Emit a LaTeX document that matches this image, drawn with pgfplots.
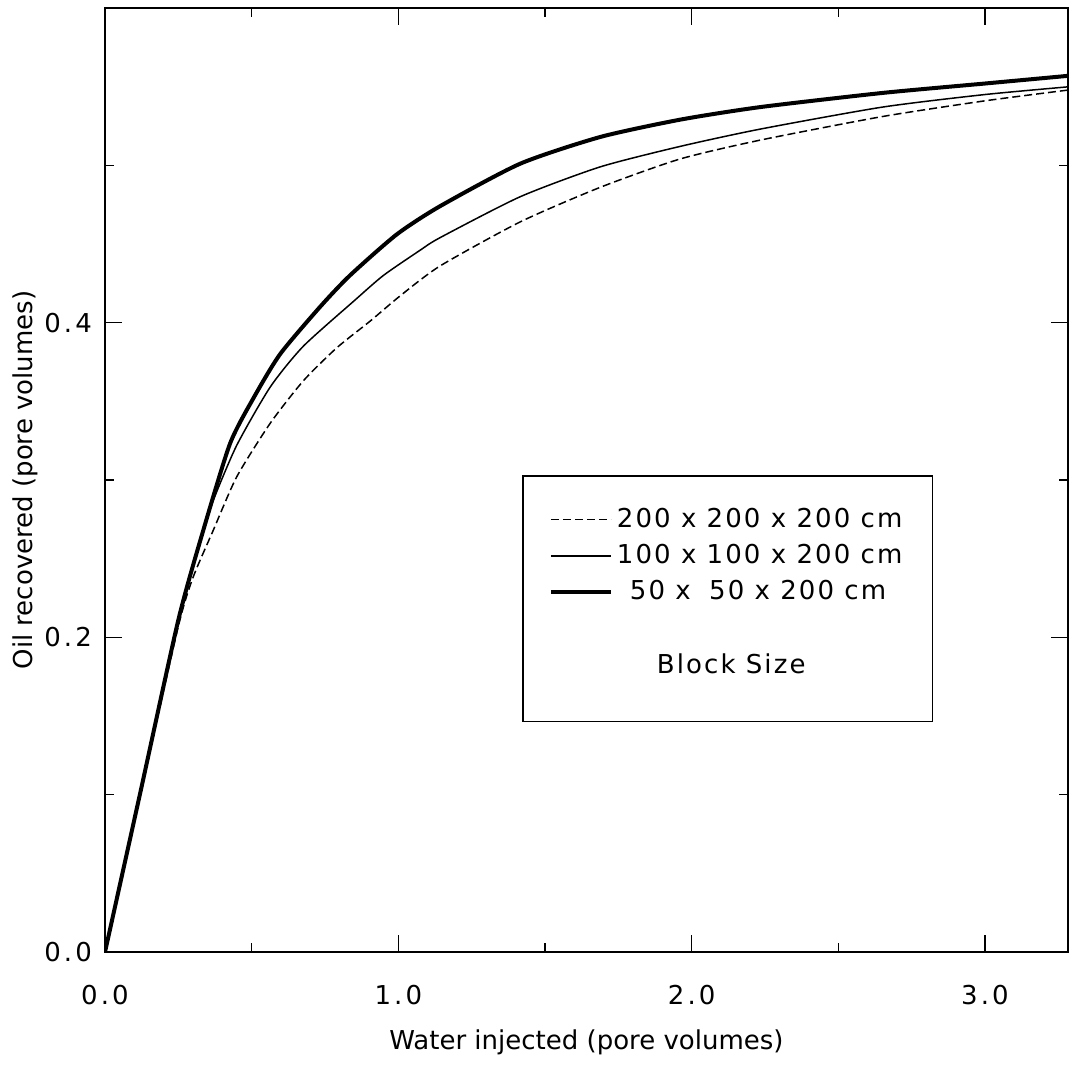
\documentclass[border=0pt]{standalone}
\usepackage{pgfplots}
\pgfplotsset{compat=1.18}
\usepackage{fontspec}
\setmainfont{DejaVu Sans}
\setsansfont{DejaVu Sans}
\newfontfamily\tickfont{DejaVu Sans}[LetterSpace=12]
\newfontfamily\legfont{DejaVu Sans}[LetterSpace=8]

\pgfplotstableread{
x y
0 0
0.12 0.101
0.25 0.211
0.335 0.268
0.426 0.323
0.506 0.352
0.597 0.380
0.733 0.410
0.835 0.430
0.994 0.456
1.142 0.474
1.415 0.501
1.688 0.518
1.96 0.529
2.233 0.537
2.65 0.546
3.0 0.552
3.29 0.557
}\thicktab

\pgfplotstableread{
x y
0 0
0.12 0.101
0.25 0.210
0.33 0.265
0.369 0.287
0.449 0.322
0.563 0.359
0.676 0.385
0.85 0.414
0.949 0.430
1.074 0.446
1.142 0.454
1.415 0.480
1.688 0.499
1.96 0.512
2.233 0.523
2.65 0.537
3.0 0.545
3.29 0.550
}\thintab

\pgfplotstableread{
x y
0 0
0.12 0.100
0.25 0.207
0.30 0.238
0.369 0.268
0.449 0.302
0.563 0.336
0.676 0.363
0.790 0.384
0.904 0.401
1.006 0.417
1.142 0.436
1.415 0.464
1.688 0.486
1.96 0.504
2.233 0.516
2.65 0.531
3.0 0.541
3.29 0.548
}\dashtab

\begin{document}
\fontsize{13}{16}\selectfont
\begin{tikzpicture}
\begin{axis}[
  scale only axis,
  width=481.5pt, height=472pt,
  xmin=0, xmax=3.283, ymin=0, ymax=0.6,
  xtick={0,1,2,3}, xticklabels={0.0,1.0,2.0,3.0},
  minor xtick={0.5,1.5,2.5},
  ytick={0,0.2,0.4}, yticklabels={0.0,0.2,0.4},
  minor ytick={0.1,0.3,0.5},
  tick align=inside,
  major tick length=8.5pt, minor tick length=4.5pt,
  every tick/.style={black, line width=0.6pt},
  axis line style={line width=1pt},
  tick label style={font=\tickfont\fontsize{13}{16}\selectfont},
  xticklabel style={yshift=-12pt},
  yticklabel style={xshift=-2pt},
  label style={font=\fontsize{13}{16}\selectfont},
  xlabel={Water injected (pore volumes)},
  ylabel={Oil recovered (pore volumes)},
  xlabel style={at={(axis description cs:0.5,-0.096)}, anchor=center},
  ylabel style={at={(axis description cs:-0.083,0.5)}, anchor=center},
  legend image code/.code={\draw[#1] (0pt,0pt) -- (30pt,0pt);},
  legend cell align=left,
  legend style={at={(axis cs:1.422,0.303)}, anchor=north west, draw=black, line width=0.8pt,
    font=\legfont\fontsize{13}{16}\selectfont, inner xsep=13pt, inner ysep=14pt, row sep=2.5pt,
    /tikz/every even column/.append style={column sep=10pt}},
]
\coordinate (sw) at (rel axis cs:0,0);
\coordinate (ne) at (rel axis cs:1,1);
\addplot[black, line width=0.75pt, dash pattern=on 4pt off 2pt, smooth, tension=0.4] table {\dashtab};
\addlegendentry{200 x 200 x 200 cm}
\addplot[black, line width=0.75pt, smooth, tension=0.4] table {\thintab};
\addlegendentry{100 x 100 x 200 cm}
\addplot[black, line width=2pt, smooth, tension=0.4] table {\thicktab};
\addlegendentry{\hspace{6.5pt}50 x \hspace{4pt}50 x 200 cm}
\addlegendimage{empty legend}
\addlegendentry[text height=28.5pt, text depth=8pt]{\hspace{20pt}Block Size}
\end{axis}
\pgfresetboundingbox
\path[use as bounding box] ([xshift=-52.5pt,yshift=-58pt]sw) rectangle ([xshift=1pt,yshift=4pt]ne);
\end{tikzpicture}
\end{document}
